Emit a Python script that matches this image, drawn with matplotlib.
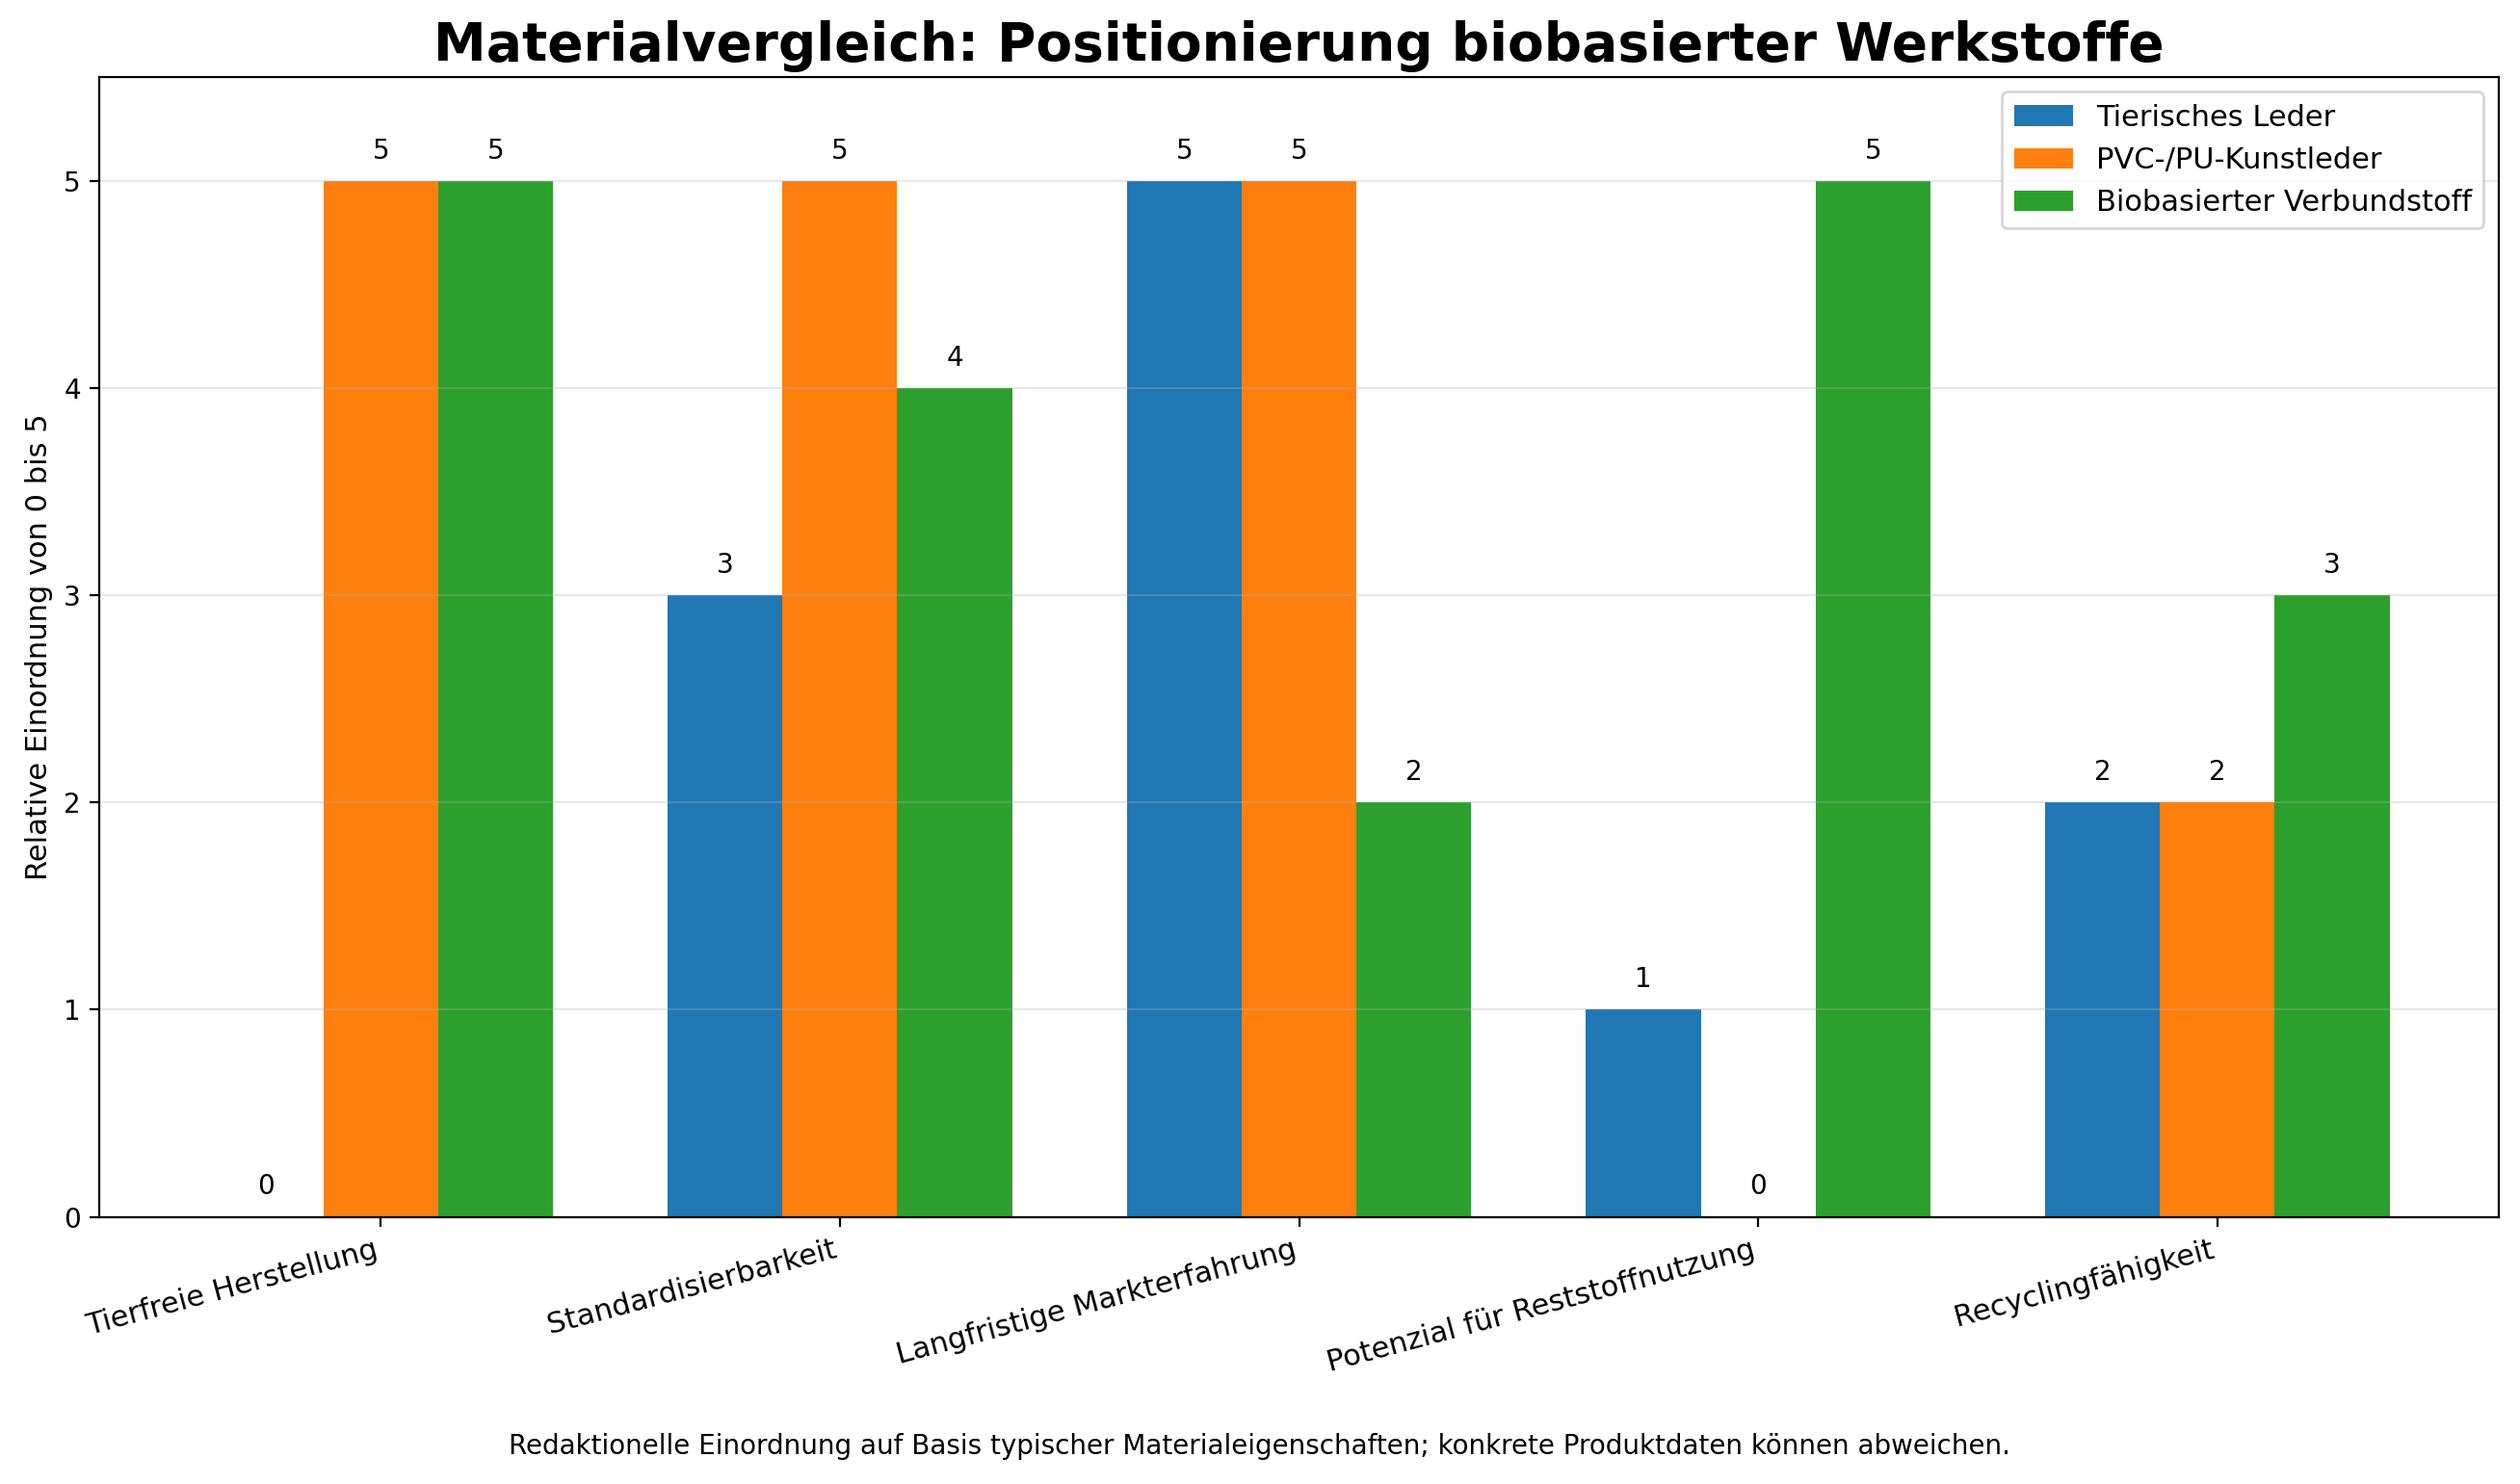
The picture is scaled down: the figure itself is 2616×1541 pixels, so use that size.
import numpy as np
import matplotlib
matplotlib.use("Agg")
import matplotlib.pyplot as plt

# Kriterien und Bewertungen (0 bis 5)
categories = [
    "Tierfreie Herstellung",
    "Standardisierbarkeit",
    "Langfristige Markterfahrung",
    "Potenzial für Reststoffnutzung",
    "Recyclingfähigkeit",
]
leder = [0, 3, 5, 1, 2]
kunstleder = [5, 5, 5, 0, 2]
bio = [5, 4, 2, 5, 3]
series_names = ["Tierisches Leder", "PVC-/PU-Kunstleder", "Biobasierter Verbundstoff"]

fig, ax = plt.subplots(figsize=(13.08, 7.705), dpi=200)

x = np.arange(len(categories))
width = 0.25
for i, (vals, name, col) in enumerate(zip([leder, kunstleder, bio], series_names,
                                         ["#1f77b4", "#ff7f0e", "#2ca02c"])):
    pos = x + (i - 1) * width
    ax.bar(pos, vals, width, label=name, color=col)
    for p, v in zip(pos, vals):
        ax.text(p, v + 0.08, str(v), ha="center", va="bottom", fontsize=10)

ax.set_ylim(0, 5.5)
ax.set_xticks(x)
ax.set_xticklabels(categories, rotation=15, ha="right", fontsize=11)
ax.tick_params(axis="y", labelsize=10)
ax.set_ylabel("Relative Einordnung von 0 bis 5", fontsize=11)
ax.set_title("Materialvergleich: Positionierung biobasierter Werkstoffe",
             fontsize=19.8, fontweight="bold")
ax.grid(axis="y", alpha=0.3)
ax.legend(loc="upper right", fontsize=11)

fig.text(0.5, 0.02, "Redaktionelle Einordnung auf Basis typischer Materialeigenschaften; "
         "konkrete Produktdaten können abweichen.", ha="center", fontsize=10)

plt.subplots_adjust(left=0.0395, right=0.9915, top=0.948, bottom=0.18)
plt.savefig("out.png", dpi=200)
